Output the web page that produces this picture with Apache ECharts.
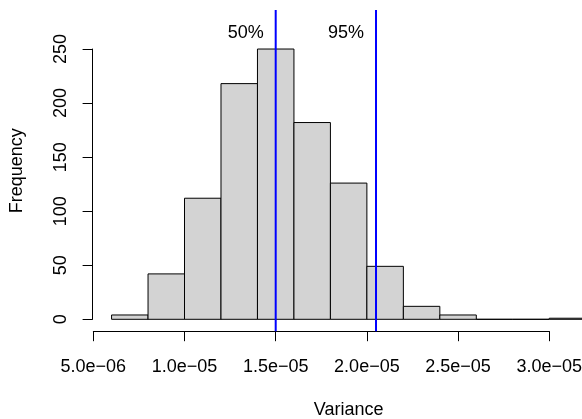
<!DOCTYPE html>
<html>
<head>
<meta charset="utf-8">
<script src="https://cdn.jsdelivr.net/npm/echarts@6/dist/echarts.min.js"></script>
<style>
  html, body { margin: 0; padding: 0; background: #fff; }
  #chart { width: 582px; height: 419px; }
</style>
</head>
<body>
<div id="chart"></div>
<script>
// histogram bins (left edges, 2e-6 wide) and counts
const binStarts = [6e-6, 8e-6, 10e-6, 12e-6, 14e-6, 16e-6, 18e-6, 20e-6, 22e-6, 24e-6, 26e-6, 28e-6, 30e-6];
const binWidth = 2e-6;
const counts = [4, 42, 112, 218, 250, 182, 126, 49, 12, 4, 0, 0, 1];

// quantile lines
const quantiles = [1.5e-5, 2.05e-5];
const quantileLabels = ["50%", "95%"];
const labelY = 265;

// axis ticks
const xTickMin = 5e-6, xTickMax = 3e-5, xTickStep = 5e-6;
const yTickMin = 0, yTickMax = 250, yTickStep = 50;

// plot region (pixels) and its data range, like R's usr
const W = 582, H = 419;
const plot = { left: 92.6, right: 604.7, top: 10.1, bottom: 331.2 };
const xUsr = [4.96e-6, 33.04e-6];
const yUsr = [-11, 286];

function px(v) {
	return plot.left + (v - xUsr[0]) / (xUsr[1] - xUsr[0]) * (plot.right - plot.left);
}
function py(v) {
	return plot.bottom - (v - yUsr[0]) / (yUsr[1] - yUsr[0]) * (plot.bottom - plot.top);
}

const font = "'Liberation Sans', Arial, Helvetica, sans-serif";
const fs = 18;

// 5.0e-06 style labels
function sci(v) {
	const s = Number(v).toExponential(1);
	const m = s.split("e");
	const exp = parseInt(m[1], 10);
	const sign = exp < 0 ? "\u2212" : "+";
	const digits = String(Math.abs(exp)).padStart(2, "0");
	return m[0] + "e" + sign + digits;
}

const bars = binStarts.map((s, i) => [s, s + binWidth, counts[i]]);
const qData = quantiles.map((q, i) => [q, labelY, quantileLabels[i]]);

var myChart = echarts.init(document.getElementById("chart"));
var option = {
	animation: false,
	backgroundColor: "#fff",
	textStyle: { fontFamily: font },
	grid: [
		// main plot region (runs past the right edge, as in the original)
		{ left: plot.left, width: plot.right - plot.left, top: plot.top, height: plot.bottom - plot.top, outerBoundsMode: "none", containLabel: false },
		// x axis (only spans tick range)
		{ left: px(xTickMin), width: px(xTickMax) - px(xTickMin), top: plot.top, height: plot.bottom - plot.top, outerBoundsMode: "none", containLabel: false },
		// y axis (only spans tick range)
		{ left: plot.left, width: plot.right - plot.left, top: py(yTickMax), height: py(yTickMin) - py(yTickMax), outerBoundsMode: "none", containLabel: false },
	],
	xAxis: [
		{
			gridIndex: 0,
			type: "value",
			min: xUsr[0],
			max: xUsr[1],
			axisLine: { show: false },
			axisTick: { show: false },
			axisLabel: { show: false },
			splitLine: { show: false },
			name: "Variance",
			nameLocation: "middle",
			nameGap: 70,
			nameTextStyle: { fontFamily: font, fontSize: fs, color: "#000" },
		},
		{
			gridIndex: 1,
			type: "value",
			min: xTickMin,
			max: xTickMax,
			interval: xTickStep,
			axisLine: { show: true, lineStyle: { color: "#000", width: 1 } },
			axisTick: { show: true, length: 10, lineStyle: { color: "#000", width: 1 } },
			axisLabel: {
				margin: 27,
				fontFamily: font,
				fontSize: fs,
				color: "#000",
				formatter: sci,
				showMinLabel: true,
				showMaxLabel: true,
			},
			splitLine: { show: false },
		},
		{ gridIndex: 2, type: "value", show: false },
	],
	yAxis: [
		{
			gridIndex: 0,
			type: "value",
			min: yUsr[0],
			max: yUsr[1],
			axisLine: { show: false },
			axisTick: { show: false },
			axisLabel: { show: false },
			splitLine: { show: false },
			name: "Frequency",
			nameLocation: "middle",
			nameGap: 67,
			nameTextStyle: { fontFamily: font, fontSize: fs, color: "#000" },
		},
		{ gridIndex: 1, type: "value", show: false },
		{
			gridIndex: 2,
			type: "value",
			min: yTickMin,
			max: yTickMax,
			interval: yTickStep,
			axisLine: { show: true, lineStyle: { color: "#000", width: 1 } },
			axisTick: { show: true, length: 10, lineStyle: { color: "#000", width: 1 } },
			axisLabel: {
				rotate: 90,
				margin: 23,
				fontFamily: font,
				fontSize: fs,
				color: "#000",
			},
			splitLine: { show: false },
		},
	],
	series: [
		{
			// histogram bars
			type: "custom",
			xAxisIndex: 0,
			yAxisIndex: 0,
			clip: false,
			data: bars,
			encode: { x: [0, 1], y: 2 },
			renderItem: function (params, api) {
				const p0 = api.coord([api.value(0), api.value(2)]);
				const p1 = api.coord([api.value(1), 0]);
				return {
					type: "rect",
					shape: { x: p0[0], y: p0[1], width: p1[0] - p0[0], height: p1[1] - p0[1] },
					style: { fill: "#D3D3D3", stroke: "#000", lineWidth: 1 },
				};
			},
		},
		{
			// quantile lines with their labels
			type: "custom",
			xAxisIndex: 0,
			yAxisIndex: 0,
			clip: false,
			data: qData,
			encode: { x: 0, y: 1 },
			renderItem: function (params, api) {
				const q = api.value(0);
				const top = api.coord([q, yUsr[1]]);
				const bot = api.coord([q, yUsr[0]]);
				const p = api.coord([q, api.value(1)]);
				return {
					type: "group",
					children: [
						{
							type: "line",
							shape: { x1: top[0], y1: top[1], x2: bot[0], y2: bot[1] },
							style: { stroke: "#0000FF", lineWidth: 2 },
						},
						{
							type: "text",
							x: p[0] - 12,
							y: p[1],
							style: {
								text: qData[params.dataIndex][2],
								textAlign: "right",
								textVerticalAlign: "middle",
								fontFamily: font,
								fontSize: fs,
								fill: "#000",
							},
						},
					],
				};
			},
		},
	],
};
myChart.setOption(option);
</script>
</body>
</html>
